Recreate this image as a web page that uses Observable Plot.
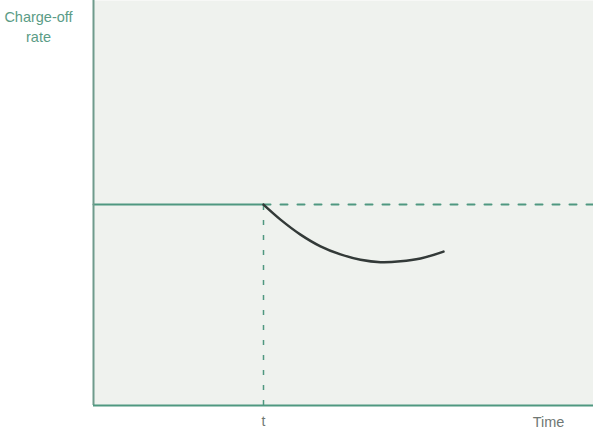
<!DOCTYPE html>
<html>
<head>
<meta charset="utf-8">
<script src="https://cdn.jsdelivr.net/npm/d3@7"></script>
<script src="https://cdn.jsdelivr.net/npm/@observablehq/plot@0.6"></script>
<style>
  html, body { margin: 0; padding: 0; background: #ffffff; }
  #chart { width: 593px; height: 433px; }
</style>
</head>
<body>
<div id="chart"></div>
<script>
// Conceptual chart: time on x (0-100), charge-off rate on y (0-100)
const yLabelLines = ["Charge-off", "rate"];
const xLabel = "Time";
const eventLabel = "t";
const eventTime = 34;
const baseRate = 49.6;
const xMax = 100;
const yMax = 100;
// curve after t
const curveTime = [34, 37.4, 41.4, 45.4, 49.4, 53.4, 57.4, 61.4, 65.4, 70];
const curveRate = [49.6, 45.9, 42.2, 39.3, 37.3, 36.0, 35.4, 35.6, 36.3, 38.0];

const curve = curveTime.map((t, i) => ({t, r: curveRate[i]}));
const teal = "#4f9880";
const textTeal = "#5b9c86";

const chart = Plot.plot({
  width: 593,
  height: 433,
  marginLeft: 93,
  marginRight: 0,
  marginTop: 0,
  marginBottom: 28,
  x: {domain: [0, xMax], axis: null},
  y: {domain: [0, yMax], axis: null},
  style: {background: "transparent", fontFamily: "Liberation Sans, Arial, sans-serif"},
  marks: [
    Plot.frame({fill: "#eff2ee", stroke: "none"}),
    // baseline solid before t
    Plot.line([{t: 0, r: baseRate}, {t: eventTime, r: baseRate}], {x: "t", y: "r", stroke: teal, strokeWidth: 2}),
    // dashed continuation
    Plot.line([{t: eventTime, r: baseRate}, {t: xMax, r: baseRate}], {x: "t", y: "r", stroke: teal, strokeWidth: 2, strokeDasharray: "7,10"}),
    // vertical dashed at t
    Plot.ruleX([eventTime], {y1: 0, y2: baseRate, stroke: teal, strokeWidth: 1.5, strokeDasharray: "5,10"}),
    // curve
    Plot.line(curve, {x: "t", y: "r", stroke: "#333a38", strokeWidth: 2.5, curve: "catmull-rom"}),
    // axes lines
    Plot.ruleX([0], {stroke: "#6f9b8c", strokeWidth: 2}),
    Plot.ruleY([0], {stroke: teal, strokeWidth: 2}),
    // labels
    Plot.text([eventLabel], {x: eventTime, y: 0, dy: 16, text: d => d, fill: "#707874", fontSize: 14, lineAnchor: "middle"}),
    Plot.text([xLabel], {x: 91, y: 0, dy: 17, text: d => d, fill: "#707874", fontSize: 14.5, lineAnchor: "middle"}),
    Plot.text([yLabelLines.join("\n")], {x: 0, y: yMax, dx: -55, dy: 25, text: d => d, fill: textTeal, fontSize: 14.5, lineHeight: 1.4, textAnchor: "middle"})
  ]
});
document.getElementById("chart").appendChild(chart);
</script>
</body>
</html>
